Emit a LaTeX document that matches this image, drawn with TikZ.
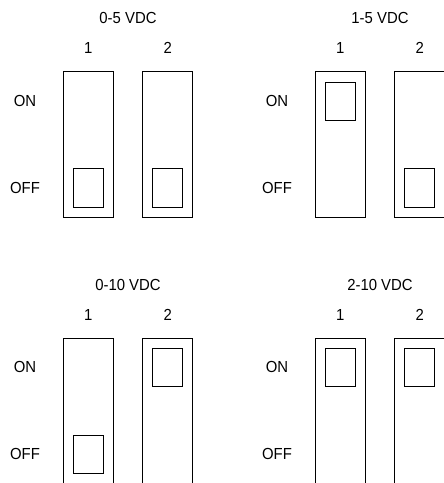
\documentclass[tikz,border=0pt]{standalone}
\usepackage{fontspec}
\setmainfont{Liberation Sans}[FakeStretch=0.93]
\begin{document}
\begin{tikzpicture}[x=1pt,y=-1pt,
  lbl/.style={anchor=base,inner sep=0pt,font=\fontsize{16}{19}\selectfont},
  body/.style={draw=black,line width=1pt,minimum width=50pt,minimum height=146pt,inner sep=0pt,outer sep=0pt},
  knob/.style={draw=black,line width=1pt,minimum width=29.7pt,minimum height=38.3pt,inner sep=0pt,outer sep=0pt}]
\useasboundingbox (0,0) rectangle (444,483);
\foreach \g/\gx/\gy/\title/\sa/\sb in {a/0/0/0-5 VDC/187.85/187.85, b/252/0/1-5 VDC/101.2/187.85, c/0/266.5/0-10 VDC/187.85/101.2, d/252/266.5/2-10 VDC/101.2/101.2}{
  \begin{scope}[shift={(\gx,\gy)}]
    \node[lbl] (title-\g) at (128,23.5) {\title};
    \node[lbl] (n1-\g) at (88.3,53.5) {1};
    \node[lbl] (n2-\g) at (167.8,53.5) {2};
    \node[lbl] (on-\g) at (25,106) {ON};
    \node[lbl] (off-\g) at (25,193) {OFF};
    \node[body] (sw1-\g) at (88.3,144.7) {};
    \node[body] (sw2-\g) at (167.8,144.7) {};
    \node[knob] (k1-\g) at (88.3,\sa) {};
    \node[knob] (k2-\g) at (167.8,\sb) {};
  \end{scope}
}
\end{tikzpicture}
\end{document}
